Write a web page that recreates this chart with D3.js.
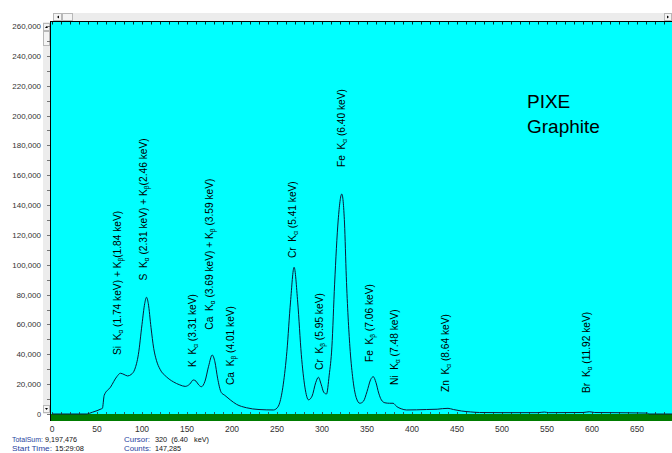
<!DOCTYPE html>
<html><head><meta charset="utf-8">
<script src="https://cdn.jsdelivr.net/npm/d3@7"></script>
<style>html,body{margin:0;padding:0;background:#fff;}svg{display:block;font-family:"Liberation Sans",Arial,sans-serif;}</style>
</head><body><svg id="c" width="672" height="453"></svg>
<script>
// ---- data ----
const channels = [0,38,45,55,56,58,65,72,76,80,84,88,92,96,100,103,105,107,110,113,116,120,127,135,142,148,153,157,160,163,166,170,174,178,181,184,188,192,198,205,216,230,246,250,253,257,261,265,269,273,277,281,285,289,293,296,299,302,305,308,311,314,318,322,325,327,331,334,338,342,346,350,354,357,360,363,366,370,375,379,383,388,394,405,416,428,434,440,446,455,465,475,500,540,547,552,590,597,603,640,662,663,689];
const counts   = [0,0,1200,3500,3800,12500,18000,25000,27300,26500,25500,26500,30000,40000,60000,74000,78200,74000,58000,44000,36000,30000,25000,21500,19500,18500,20000,22800,22000,19500,18300,22000,32000,39500,35000,24000,14500,12500,9500,6500,4200,3000,2700,4000,7500,20000,42000,75000,98300,75000,40000,18000,9500,12000,21000,24600,20000,14500,13400,26000,45000,87000,130000,147400,128000,92000,45000,25000,11000,7200,8500,15000,23000,25000,21000,14000,9400,7500,7200,7200,5000,3500,2700,2800,3000,3200,3600,3800,3000,2000,1400,1000,900,900,1300,900,1000,1500,1000,800,600,0,0];
const xTicks = [0,50,100,150,200,250,300,350,400,450,500,550,600,650];
const yTicks = [0,20000,40000,60000,80000,100000,120000,140000,160000,180000,200000,220000,240000,260000];
// peak annotations: text parts (normal / subscript), anchor channel & count
const labelParts = [
  [["Si  K",""],["α","sub"],[" (1.74 keV) + K",""],["β","sub"],["(1.84 keV)",""]],
  [["S  K",""],["α","sub"],[" (2.31 keV) + K",""],["β","sub"],["(2.46 keV)",""]],
  [["K  K",""],["α","sub"],[" (3.31 keV)",""]],
  [["Ca  K",""],["α","sub"],[" (3.69 keV) + K",""],["β","sub"],[" (3.59 keV)",""]],
  [["Ca  K",""],["β","sub"],[" (4.01 keV)",""]],
  [["Cr  K",""],["α","sub"],[" (5.41 keV)",""]],
  [["Cr  K",""],["β","sub"],[" (5.95 keV)",""]],
  [["Fe  K",""],["α","sub"],[" (6.40 keV)",""]],
  [["Fe  K",""],["β","sub"],[" (7.06 keV)",""]],
  [["Ni  K",""],["α","sub"],[" (7.48 keV)",""]],
  [["Zn  K",""],["α","sub"],[" (8.64 keV)",""]],
  [["Br  K",""],["α","sub"],[" (11.92 keV)",""]]
];
const labelChannel = [77,105.5,160,179,202,271,301,325.5,356.5,384,441,598];
const labelCount   = [39500,89500,31500,56500,19400,104500,29500,165500,34800,19400,14700,14100];
const titleLines = ["PIXE","Graphite"];
const footLeft  = [["TotalSum:","9,197,476"],["Start Time:","15:29:08"]];
const footRight = [["Cursor:","320  (6.40   keV)"],["Counts:","147,285"]];

// ---- layout ----
const svg = d3.select("#c");
const L = 50, R = 672, T = 21.5, B = 414;
const x = d3.scaleLinear().domain([0,650]).range([52,637]);
const y = d3.scaleLinear().domain([0,260000]).range([B,26]);

// vertical scrollbar
svg.append("rect").attr("x",43).attr("y",22).attr("width",7).attr("height",392).attr("fill","#ececec");
svg.append("rect").attr("x",43.5).attr("y",23.5).attr("width",6).attr("height",7).attr("fill","#f4f4f4").attr("stroke","#b8b8b8");
svg.append("rect").attr("x",43.5).attr("y",31.5).attr("width",6).attr("height",14).attr("fill","#f4f4f4").attr("stroke","#b8b8b8");
svg.append("rect").attr("x",43.5).attr("y",405.5).attr("width",6).attr("height",7).attr("fill","#f4f4f4").attr("stroke","#b8b8b8");
svg.append("path").attr("d","M45,28 L48,28 L46.5,26 Z").attr("fill","#000");
svg.append("path").attr("d","M45,408 L48,408 L46.5,410 Z").attr("fill","#000");
// horizontal scrollbar
svg.append("rect").attr("x",53).attr("y",13).attr("width",619).attr("height",8).attr("fill","#ececec");
svg.append("rect").attr("x",53.5).attr("y",13.5).attr("width",8).attr("height",7).attr("fill","#f4f4f4").attr("stroke","#b8b8b8");
svg.append("rect").attr("x",62.5).attr("y",13.5).attr("width",10).attr("height",7).attr("fill","#f4f4f4").attr("stroke","#b8b8b8");
svg.append("rect").attr("x",664.5).attr("y",13.5).attr("width",7).attr("height",7).attr("fill","#f4f4f4").attr("stroke","#b8b8b8");
svg.append("path").attr("d","M59,15.5 L59,18.5 L57,17 Z").attr("fill","#000");
svg.append("path").attr("d","M667,15.5 L667,18.5 L669,17 Z").attr("fill","#000");

// plot background
svg.append("rect").attr("x",L).attr("y",T).attr("width",R-L).attr("height",B-T).attr("fill","#00ffff");
svg.append("rect").attr("x",L).attr("y",B).attr("width",R-L).attr("height",7).attr("fill","#007c00");
svg.append("line").attr("x1",L).attr("x2",R).attr("y1",T).attr("y2",T).attr("stroke","#000");
svg.append("line").attr("x1",L+0.5).attr("x2",L+0.5).attr("y1",T).attr("y2",B+7).attr("stroke","#000");

// top and bottom minor ticks (every 10 channels)
const minor = d3.range(0,690,10);
svg.append("g").selectAll("line").data(minor).join("line")
  .attr("x1",d=>Math.round(x(d))+0.5).attr("x2",d=>Math.round(x(d))+0.5)
  .attr("y1",T).attr("y2",T+3).attr("stroke","#000").attr("stroke-width",0.8);
svg.append("g").selectAll("line").data(minor).join("line")
  .attr("x1",d=>Math.round(x(d))+0.5).attr("x2",d=>Math.round(x(d))+0.5)
  .attr("y1",B-2).attr("y2",B).attr("stroke","#333").attr("stroke-width",0.8);

// y axis ticks
const yMinor = d3.range(0,260001,10000);
svg.append("g").selectAll("line").data(yMinor).join("line")
  .attr("x1",L-3).attr("x2",L)
  .attr("y1",d=>Math.round(y(d))+0.5).attr("y2",d=>Math.round(y(d))+0.5)
  .attr("stroke","#555").attr("stroke-width",0.8);
svg.append("g").selectAll("text").data(yTicks).join("text")
  .attr("x",41).attr("y",d=>y(d)+3)
  .attr("text-anchor","end").attr("font-size",8).attr("fill","#333")
  .attr("textLength",d=>d3.format(",")(d).length*4.1).attr("lengthAdjust","spacingAndGlyphs")
  .text(d=>d3.format(",")(d));
// x axis labels
svg.append("g").selectAll("text").data(xTicks).join("text")
  .attr("x",d=>x(d)).attr("y",432)
  .attr("text-anchor","middle").attr("font-size",8.5).attr("fill","#333")
  .text(d=>d);

// spectrum line
const pts = channels.map((c,i)=>[c,counts[i]]);
svg.append("path").datum(pts)
  .attr("d",d3.line().x(d=>x(d[0])).y(d=>y(d[1])).curve(d3.curveMonotoneX))
  .attr("fill","none").attr("stroke","#0a1a3a").attr("stroke-width",1);

// peak labels
const lg = svg.append("g");
labelParts.forEach((parts,i)=>{
  const t = lg.append("text")
    .attr("transform",`translate(${x(labelChannel[i])},${y(labelCount[i])}) rotate(-90)`)
    .attr("dy","0.35em").attr("font-size",10.2).attr("fill","#000").style("white-space","pre");
  let prevSub = false;
  parts.forEach(([s,kind])=>{
    const ts = t.append("tspan").text(s);
    if(kind==="sub"){ ts.attr("font-size",6.5).attr("dy",2); prevSub = true; }
    else { ts.attr("dy", prevSub ? -2 : 0); prevSub = false; }
  });
});

// title
svg.append("g").selectAll("text").data(titleLines).join("text")
  .attr("x",527).attr("y",(d,i)=>108+i*25).attr("font-size",19).attr("fill","#000").text(d=>d);

// footer
const footLen = {"TotalSum:":31,"Start Time:":40,"Cursor:":26,"Counts:":27,"9,197,476":32,"15:29:08":29,"147,285":26,"320  (6.40   keV)":54};
[[footLeft,12,[45,55]],[footRight,124,[155,155]]].forEach(([rows,x0,x1s])=>{
  rows.forEach((r,i)=>{
    svg.append("text").attr("x",x0).attr("y",442+i*9).attr("font-size",8).attr("fill","#1f3fa0")
      .attr("textLength",footLen[r[0]]).attr("lengthAdjust","spacingAndGlyphs").text(r[0]);
    svg.append("text").attr("x",x1s[i]).attr("y",442+i*9).attr("font-size",8).attr("fill","#111")
      .attr("textLength",footLen[r[1]]).attr("lengthAdjust","spacingAndGlyphs").style("white-space","pre").text(r[1]);
  });
});
</script></body></html>
